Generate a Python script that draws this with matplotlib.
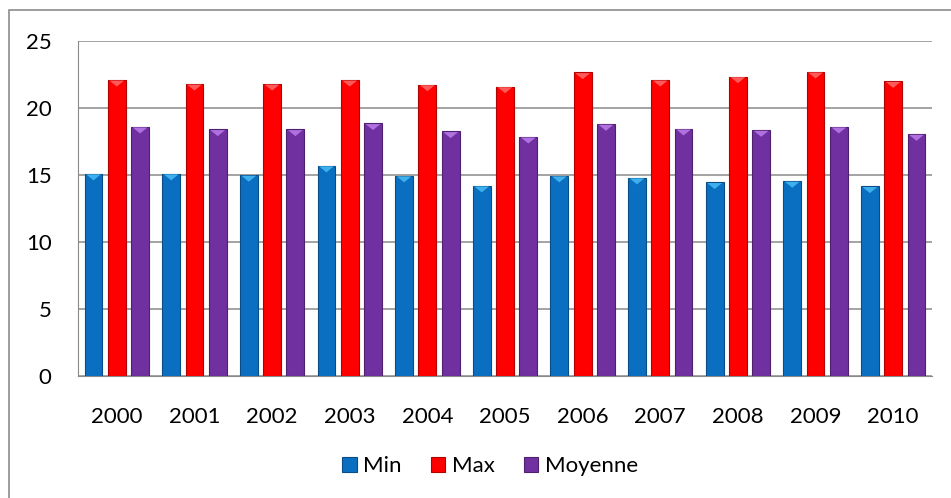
import numpy as np
import matplotlib.pyplot as plt
from matplotlib.patches import Rectangle

plt.rcParams['font.family'] = ['Lato', 'DejaVu Sans']

# Data
years = ["2000", "2001", "2002", "2003", "2004", "2005",
         "2006", "2007", "2008", "2009", "2010"]
t_min = [15.1, 15.1, 15.0, 15.7, 14.95, 14.2, 14.95, 14.8, 14.45, 14.55, 14.15]
t_max = [22.1, 21.8, 21.8, 22.1, 21.75, 21.6, 22.65, 22.1, 22.35, 22.7, 22.0]
t_moy = [18.6, 18.4, 18.4, 18.85, 18.25, 17.85, 18.8, 18.45, 18.35, 18.6, 18.05]

series = [("Min", t_min, "#0b6fc1", "#0a4d86", "#3fb0ee"),
          ("Max", t_max, "#fe0000", "#b30000", "#ff5a5a"),
          ("Moyenne", t_moy, "#7030a0", "#4e2070", "#b070e0")]

fig = plt.figure(figsize=(9.51, 4.98), dpi=100)
fig.patches.append(Rectangle((9 / 951, -0.1), 1.2, 1 - 10 / 498 + 0.1,
                             transform=fig.transFigure, fill=False,
                             edgecolor="#8c8c8c", linewidth=1.2))

ax = fig.add_axes([78 / 951, 1 - 376 / 498, (932 - 78) / 951, (376 - 41) / 498])

x = np.arange(len(years))
width = 0.23
offset = 0.30
for i, (name, vals, col, edge, light) in enumerate(series):
    pos = x + (i - 1) * offset
    ax.bar(pos, vals, width, color=col, edgecolor=edge,
           linewidth=0.8, label=name, zorder=3)
    # small highlight on top of each bar
    for p, v in zip(pos, vals):
        ax.fill([p - width / 2 + 0.02, p + width / 2 - 0.02, p],
                [v - 0.05, v - 0.05, v - 0.5], color=light, zorder=4, lw=0)

ax.set_xlim(-0.5, len(years) - 0.5)
ax.set_ylim(0, 25)
ax.set_yticks([0, 5, 10, 15, 20, 25])
ax.set_xticks(x)
ax.set_xticklabels(years)
ax.tick_params(axis="both", length=0, labelsize=16)
ax.tick_params(axis="y", pad=19)
ax.tick_params(axis="x", pad=22)
ax.grid(axis="y", color="#8a8a8a", linewidth=1.1, zorder=0)
for s in ["top", "right"]:
    ax.spines[s].set_visible(False)
ax.spines["left"].set_color("#8a8a8a")
ax.spines["bottom"].set_color("#8a8a8a")

fig.legend(loc="center", bbox_to_anchor=(490 / 951, 1 - 466 / 498), ncol=3,
           frameon=False, fontsize=16, handlelength=0.65, handleheight=0.65,
           handletextpad=0.3, columnspacing=1.3)

fig.savefig("out.png", dpi=100)
